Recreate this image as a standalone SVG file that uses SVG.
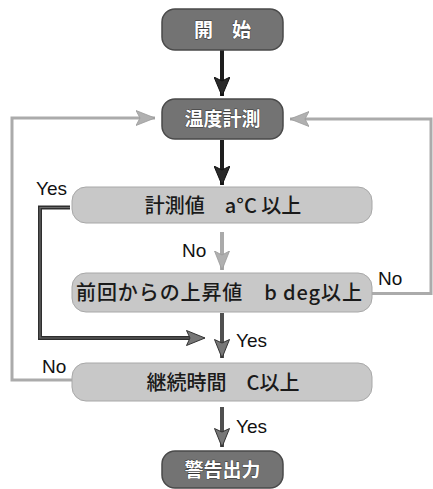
<svg xmlns="http://www.w3.org/2000/svg" width="433" height="489" viewBox="0 0 433 489">
<defs>
<style>
.dark rect{fill:#737373;stroke:#4a4a4a;stroke-width:1.5}
.light rect{fill:#c8c8c8;stroke:#a8a8a8;stroke-width:1}
.dark text{font-family:"Noto Sans CJK JP","Noto Sans",sans-serif;font-size:19px;font-weight:bold;fill:#fff;stroke:#333;stroke-width:0.8;paint-order:stroke;text-anchor:middle}
.light text{font-family:"Noto Sans CJK JP","Liberation Sans",sans-serif;font-size:20px;font-weight:500;fill:#1a1a1a;text-anchor:middle}
.lbl{font-family:"Liberation Sans",Arial,sans-serif;font-size:19px;fill:#111}
.loop{fill:none;stroke:#ababab;stroke-width:3}
.blk{fill:none;stroke:#1e1e1e;stroke-width:4}
.dk{fill:none;stroke:#505050;stroke-width:4}
.lt{fill:none;stroke:#aaaaaa;stroke-width:4}
</style>
<marker id="hBlack" markerUnits="userSpaceOnUse" markerWidth="20" markerHeight="16" refX="19" refY="8" orient="auto" viewBox="0 0 20 16">
<path d="M0,0 L19,8 L0,16 L4,8 Z" fill="#2a2a2a" stroke="#111" stroke-width="1"/>
</marker>
<marker id="hDark" markerUnits="userSpaceOnUse" markerWidth="20" markerHeight="16" refX="19" refY="8" orient="auto" viewBox="0 0 20 16">
<path d="M0.5,0.5 L19,8 L0.5,15.5 L4,8 Z" fill="#777" stroke="#333" stroke-width="1"/>
</marker>
<marker id="hLight" markerUnits="userSpaceOnUse" markerWidth="20" markerHeight="16" refX="19" refY="8" orient="auto" viewBox="0 0 20 16">
<path d="M0,0.5 L19,8 L0,15.5 L4,8 Z" fill="#b0b0b0" stroke="#9a9a9a" stroke-width="0.8"/>
</marker>
</defs>
<rect width="433" height="489" fill="#fff"/>

<g id="connectors">
<path class="blk" d="M222,50 L222,96" marker-end="url(#hBlack)"/>
<path class="blk" d="M222,140 L222,185" marker-end="url(#hBlack)"/>
<path class="lt" d="M222,232 L222,270" marker-end="url(#hLight)"/>
<path class="dk" d="M222,313 L222,358" marker-end="url(#hDark)"/>
<path class="dk" d="M222,407 L222,447" marker-end="url(#hDark)"/>
<path d="M70,207.5 L40,207.5 L40,338 L190,338" fill="none" stroke="#2e2e2e" stroke-width="4"/>
<path d="M70,207.5 L40,207.5 L40,338 L205,338" fill="none" stroke="#6a6a6a" stroke-width="1.2" marker-end="url(#hDark)"/>
<path class="loop" d="M72,380 L12,380 L12,118 L155,118" marker-end="url(#hLight)"/>
<path class="loop" d="M372,293.5 L431,293.5 L431,119 L290,119" marker-end="url(#hLight)"/>
<text class="lbl" x="36" y="195">Yes</text>
<text class="lbl" x="182" y="257">No</text>
<text class="lbl" x="378" y="285">No</text>
<text class="lbl" x="236" y="347">Yes</text>
<text class="lbl" x="42" y="373">No</text>
<text class="lbl" x="236" y="433">Yes</text>
</g>

<g id="start" class="dark">
<rect x="162" y="9" width="121" height="41" rx="13"/>
<text x="222.5" y="36.5">開　始</text>
</g>
<g id="measure" class="dark">
<rect x="162" y="99" width="121" height="40" rx="13"/>
<text x="222.5" y="126">温度計測</text>
</g>
<g id="check1" class="light">
<rect x="72" y="187" width="300" height="36" rx="14"/>
<text x="223" y="212.5">計測値　a°C 以上</text>
</g>
<g id="check2" class="light">
<rect x="72" y="273" width="300" height="39" rx="14"/>
<text x="219" y="300" textLength="286" lengthAdjust="spacing">前回からの上昇値　b deg以上</text>
</g>
<g id="check3" class="light">
<rect x="72" y="363" width="300" height="38" rx="14"/>
<text x="223" y="389.5">継続時間　C以上</text>
</g>
<g id="alarm" class="dark">
<rect x="162" y="451" width="121" height="37" rx="13"/>
<text x="222.5" y="476.5">警告出力</text>
</g>
</svg>
